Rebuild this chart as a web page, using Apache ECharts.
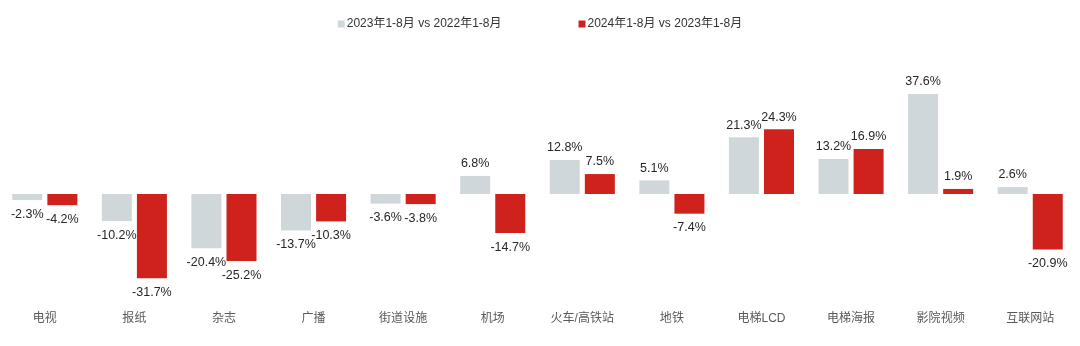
<!DOCTYPE html>
<html><head><meta charset="utf-8">
<script src="https://cdn.jsdelivr.net/npm/echarts@6/dist/echarts.min.js"></script>
<style>html,body{margin:0;padding:0;background:#fff}#c{width:1080px;height:346px}</style>
</head><body><div id="c"></div>
<script>
const categories = ['电视','报纸','杂志','广播','街道设施','机场','火车/高铁站','地铁','电梯LCD','电梯海报','影院视频','互联网站'];
const seriesNames = ['2023年1-8月 vs 2022年1-8月','2024年1-8月 vs 2023年1-8月'];
const values2023 = [-2.3,-10.2,-20.4,-13.7,-3.6,6.8,12.8,5.1,21.3,13.2,37.6,2.6];
const values2024 = [-4.2,-31.7,-25.2,-10.3,-3.8,-14.7,7.5,-7.4,24.3,16.9,1.9,-20.9];
const colors = ['#d0d7da','#d0221d'];
const font = 'Liberation Sans, Arial, "Noto Sans CJK SC", sans-serif';
function mk(vals){
  return vals.map(v => ({value:v, label:{position: v>=0?'top':'bottom', distance: v>=0?6:8}}));
}
const chart = echarts.init(document.getElementById('c'));
chart.setOption({
  animation:false,
  legend:{top:13,left:'center',itemWidth:7,itemHeight:7,itemGap:77,icon:'rect',
    textStyle:{fontFamily:font,fontSize:12,color:'#333',padding:[0,0,0,-3]},
    data:seriesNames},
  grid:{left:0,right:5,top:87.6,bottom:45.6,containLabel:false},
  xAxis:{type:'category',data:categories,axisLine:{show:false},axisTick:{show:false},
    axisLabel:{margin:12,fontFamily:font,fontSize:12,color:'#595959'}},
  yAxis:{type:'value',min:-40,max:40,show:false,splitLine:{show:false}},
  series:[
    {name:seriesNames[0],type:'bar',data:mk(values2023),barWidth:30,barGap:'17%',
      itemStyle:{color:colors[0]},
      label:{show:true,formatter:p=>p.value+'%',fontFamily:font,fontSize:12.5,color:'#262626'}},
    {name:seriesNames[1],type:'bar',data:mk(values2024),barWidth:30,barGap:'17%',
      itemStyle:{color:colors[1]},
      label:{show:true,formatter:p=>p.value+'%',fontFamily:font,fontSize:12.5,color:'#262626'}}
  ]
});
</script></body></html>
